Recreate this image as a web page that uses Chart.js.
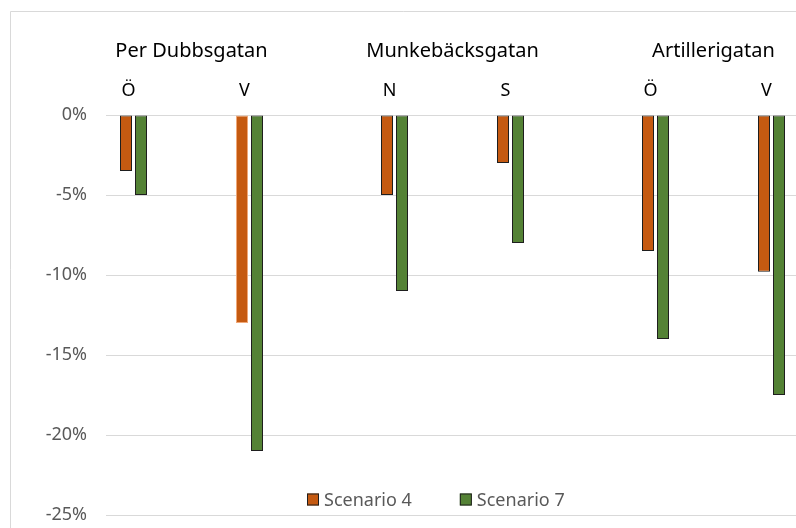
<!DOCTYPE html>
<html>
<head>
<meta charset="utf-8">
<title>Scenario 4 och 7</title>
<script src="https://cdn.jsdelivr.net/npm/chart.js@4/dist/chart.umd.min.js"></script>
<style>
  html, body { margin: 0; padding: 0; background: #fff; }
  #wrap { width: 796px; height: 528px; }
</style>
</head>
<body>
<div id="wrap"><canvas id="trafficChart" width="796" height="528"></canvas></div>
<script>
// streets, the directions counted on each, and the change per scenario (%)
const streets = ['Per Dubbsgatan', 'Munkebäcksgatan', 'Artillerigatan'];
const directions = [['Ö', 'V'], ['N', 'S'], ['Ö', 'V']];
const scenario4 = [-3.5, -13, -5, -3, -8.5, -9.8];
const scenario7 = [-5, -21, -11, -8, -14, -17.5];
const yMin = -25;
const yMax = 0;
const yStep = 5;

// slot layout on the x scale: 4 slots between directions, 5 between streets
const DIR_STEP = 4;
const GROUP_STEP = 9;

const slots = [];
const dirLabels = [];
directions.forEach(function(dirs, g) {
  dirs.forEach(function(d, i) {
    slots.push(g * GROUP_STEP + i * DIR_STEP);
    dirLabels.push(d);
  });
});
const streetCenters = streets.map(function(s, g) {
  return g * GROUP_STEP + DIR_STEP / 2;
});

function toPoints(values) {
  return values.map(function(v, i) { return { x: slots[i], y: v }; });
}

// light frame of the chart, open to the right and bottom
const chartFrame = {
  id: 'chartFrame',
  beforeDraw(chart) {
    const c = chart.ctx;
    c.save();
    c.fillStyle = '#fff';
    c.fillRect(0, 0, chart.width, chart.height);
    c.strokeStyle = '#d9d9d9';
    c.lineWidth = 1;
    c.beginPath();
    c.moveTo(10.5, chart.height);
    c.lineTo(10.5, 11.5);
    c.lineTo(chart.width, 11.5);
    c.stroke();
    c.restore();
  }
};

// legend sits inside the plot, just above the bottom gridline
const legendInside = {
  id: 'legendInside',
  afterDraw(chart) {
    const c = chart.ctx;
    const sets = chart.data.datasets;
    const box = 12, gap = 5, spacing = 48;
    c.save();
    c.font = '18px "Noto Sans"';
    const widths = sets.map(function(ds) { return c.measureText(ds.label).width; });
    const total = widths.reduce(function(a, w) { return a + box + gap + w; }, 0) + spacing * (sets.length - 1);
    let x = Math.round(436 - total / 2);
    const y = 499.5;
    sets.forEach(function(ds, i) {
      c.fillStyle = ds.backgroundColor;
      c.fillRect(x, y - box / 2, box, box);
      c.strokeStyle = '#1e1e1e';
      c.lineWidth = 1;
      c.strokeRect(x + 0.5, y - box / 2 + 0.5, box - 1, box - 1);
      c.fillStyle = '#595959';
      c.textBaseline = 'middle';
      c.textAlign = 'left';
      c.fillText(ds.label, x + box + gap, y + 1);
      x += box + gap + widths[i] + spacing;
    });
    c.restore();
  }
};

document.addEventListener('DOMContentLoaded', function() {
  Chart.defaults.font.family = '"Noto Sans", sans-serif';

  const ctx = document.getElementById('trafficChart').getContext('2d');
  // 29px per slot across a 690px plot, slot 0 sitting at x = 133.5
  const slotPx = 29;
  const plotWidth = 690;
  const xMin = -27.5 / slotPx;
  const xMax = xMin + plotWidth / slotPx;

  new Chart(ctx, {
    type: 'bar',
    data: {
      datasets: [{
          label: 'Scenario 4',
          data: toPoints(scenario4),
          backgroundColor: '#C55A11',
          borderColor: ['#1e1e1e', '#F0A878', '#1e1e1e', '#1e1e1e', '#1e1e1e', '#1e1e1e'],
          borderWidth: 1,
          borderSkipped: false
        },
        {
          label: 'Scenario 7',
          data: toPoints(scenario7),
          backgroundColor: '#548235',
          borderColor: '#1e1e1e',
          borderWidth: 1,
          borderSkipped: false
        }
      ]
    },
    options: {
      responsive: false,
      animation: false,
      devicePixelRatio: 1,
      // two 15px slots per direction, bars 12px wide
      categoryPercentage: 30 / (DIR_STEP * slotPx),
      barPercentage: 0.8,
      layout: {
        padding: { top: 35, left: 0, right: 0, bottom: 13 }
      },
      plugins: {
        legend: { display: false },
        tooltip: { enabled: false }
      },
      scales: {
        x: {
          type: 'linear',
          position: 'top',
          min: xMin,
          max: xMax,
          bounds: 'data',
          offset: false,
          weight: 0,
          grid: { display: false, drawTicks: false },
          border: { display: false },
          afterBuildTicks: function(scale) {
            scale.ticks = slots.map(function(v) { return { value: v }; });
          },
          ticks: {
            autoSkip: false,
            maxRotation: 0,
            padding: 13.2,
            labelOffset: -5,
            color: '#000',
            font: { size: 18 },
            callback: function(value, index) { return dirLabels[index]; }
          }
        },
        street: {
          type: 'linear',
          position: 'top',
          axis: 'x',
          min: xMin,
          max: xMax,
          bounds: 'data',
          offset: false,
          weight: 1,
          grid: { display: false, drawTicks: false },
          border: { display: false },
          afterBuildTicks: function(scale) {
            scale.ticks = streetCenters.map(function(v) { return { value: v }; });
          },
          ticks: {
            autoSkip: false,
            maxRotation: 0,
            padding: 4,
            color: '#000',
            font: { size: 20 },
            callback: function(value, index) { return streets[index]; }
          }
        },
        y: {
          min: yMin,
          max: yMax,
          grid: { color: '#d9d9d9', lineWidth: 1, drawTicks: false },
          border: { display: false },
          afterFit: function(scale) {
            // fixed gutter for the % labels; keep the plot reaching the bottom
            scale.width = 106;
            scale.paddingTop = 0;
            scale.paddingBottom = 0;
          },
          ticks: {
            stepSize: yStep,
            padding: 19,
            color: '#595959',
            font: { size: 18 },
            callback: function(value) { return value + '%'; }
          }
        }
      }
    },
    plugins: [chartFrame, legendInside]
  });
});
</script>
</body>
</html>
